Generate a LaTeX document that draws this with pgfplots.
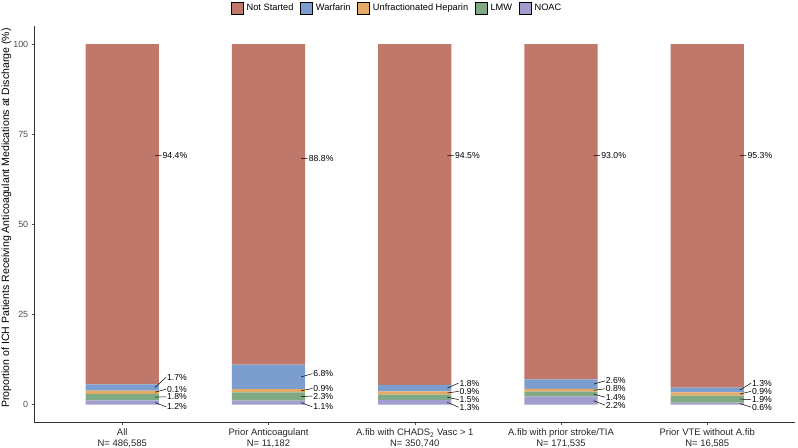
\documentclass[border=0pt]{standalone}
\usepackage{fontspec}
\setmainfont{Liberation Sans}
\usepackage{pgfplots}
\pgfplotsset{compat=1.18}
\usepackage{pgfplotstable}

\definecolor{cNS}{RGB}{191,120,106}
\definecolor{cW}{RGB}{123,158,206}
\definecolor{cU}{RGB}{230,170,102}
\definecolor{cL}{RGB}{127,170,132}
\definecolor{cN}{RGB}{161,157,205}
\definecolor{tickgray}{RGB}{77,77,77}

% Stack values (%); bottom to top: NOAC, LMW, UFH, Warfarin, Not started
\pgfplotstableread{
x notstarted warfarin ufh lmw noac
1 94.4 1.7 0.9 1.8 1.2
2 88.9 6.8 0.9 2.3 1.1
3 94.5 1.8 0.9 1.5 1.3
4 93.0 2.6 0.8 1.4 2.2
5 95.3 1.3 0.9 1.9 0.6
}\bars

% Label positions and texts
\pgfplotstableread{
x y lab
1.275 69.1 94.4
1.305 7.6 1.7
1.305 4.3 0.1
1.305 2.2 1.8
1.305 -0.6 1.2
2.275 68.3 88.8
2.305 8.6 6.8
2.305 4.5 0.9
2.305 2.4 2.3
2.305 -0.6 1.1
3.275 69.1 94.5
3.305 6.0 1.8
3.305 3.7 0.9
3.305 1.4 1.5
3.305 -0.7 1.3
4.275 69.1 93.0
4.305 6.6 2.6
4.305 4.4 0.8
4.305 2.1 1.4
4.305 -0.1 2.2
5.275 69.1 95.3
5.305 6.0 1.3
5.305 3.7 0.9
5.305 1.4 1.9
5.305 -0.7 0.6
}\labels

\begin{document}
\begin{tikzpicture}
\begin{axis}[
  scale only axis, width=760.5bp, height=396.5bp,
  xmin=0.4, xmax=5.6, ymin=-5, ymax=105,
  ybar stacked, bar width=0.5,
  axis lines*=left,
  axis line style={black!80, line width=0.6bp},
  tick align=outside, major tick length=2.75bp,
  tick style={tickgray, line width=0.5bp},
  xtick={1,2,3,4,5},
  xticklabels={{All\\N= 486,585},{Prior Anticoagulant\\N= 11,182},{A.fib with CHADS\textsubscript{2} Vasc > 1\\N= 350,740},{A.fib with prior stroke/TIA\\N= 171,535},{Prior VTE without A.fib\\N= 16,585}},
  xticklabel style={align=center, font=\fontsize{9.5}{10.5}\selectfont, text=black!85},
  ytick={0,25,50,75,100},
  yticklabel style={font=\fontsize{9}{10}\selectfont, text=tickgray},
  /pgf/number format/assume math mode=true,
  ylabel={Proportion of ICH Patients Receiving Anticoagulant Medications at Discharge (\%)},
  ylabel style={at={(axis description cs:-0.0368,0.516)}, anchor=center, inner sep=0pt, font=\fontsize{10.6}{12}\selectfont},
  legend style={at={(axis description cs:0.4767,1.046)}, anchor=center, draw=none, fill=none,
    legend columns=-1, font=\fontsize{9.3}{11}\selectfont,
    /tikz/every odd column/.append style={column sep=1.5bp},
    /tikz/every even column/.append style={column sep=4.5bp}},
  legend image code/.code={\fill[#1] (0bp,-6bp) rectangle (12bp,6bp);},
]
\addlegendimage{fill=cNS}\addlegendentry{Not Started}
\addlegendimage{fill=cW}\addlegendentry{Warfarin}
\addlegendimage{fill=cU}\addlegendentry{Unfractionated Heparin}
\addlegendimage{fill=cL}\addlegendentry{LMW}
\addlegendimage{fill=cN}\addlegendentry{NOAC}
\addplot[fill=cN, draw=none, forget plot] table[x=x, y=noac]{\bars};
\addplot[fill=cL, draw=none, forget plot] table[x=x, y=lmw]{\bars};
\addplot[fill=cU, draw=none, forget plot] table[x=x, y=ufh]{\bars};
\addplot[fill=cW, draw=none, forget plot] table[x=x, y=warfarin]{\bars};
\addplot[fill=cNS, draw=none, forget plot] table[x=x, y=notstarted]{\bars};
\end{axis}
\begin{axis}[
  scale only axis, width=760.5bp, height=396.5bp,
  xmin=0.4, xmax=5.6, ymin=-5, ymax=105,
  hide axis, clip=false,
]
\addplot[black, line width=0.5bp, unbounded coords=jump] coordinates {
(1.223,69.1) (1.268,69.1) (nan,nan)
(1.223,4.75) (1.30,7.6) (nan,nan)
(1.223,3.45) (1.30,4.3) (nan,nan)
(1.223,2.1) (1.30,2.2) (nan,nan)
(1.223,0.6) (1.30,-0.6) (nan,nan)
(2.223,68.3) (2.268,68.3) (nan,nan)
(2.223,7.7) (2.30,8.6) (nan,nan)
(2.223,3.85) (2.30,4.5) (nan,nan)
(2.223,2.25) (2.30,2.4) (nan,nan)
(2.223,0.55) (2.30,-0.6) (nan,nan)
(3.223,69.1) (3.268,69.1) (nan,nan)
(3.223,4.6) (3.30,6.0) (nan,nan)
(3.223,3.25) (3.30,3.7) (nan,nan)
(3.223,2.05) (3.30,1.4) (nan,nan)
(3.223,0.65) (3.30,-0.7) (nan,nan)
(4.223,69.1) (4.268,69.1) (nan,nan)
(4.223,5.7) (4.30,6.6) (nan,nan)
(4.223,4.0) (4.30,4.4) (nan,nan)
(4.223,2.9) (4.30,2.1) (nan,nan)
(4.223,1.1) (4.30,-0.1) (nan,nan)
(5.223,69.1) (5.268,69.1) (nan,nan)
(5.223,4.05) (5.30,6.0) (nan,nan)
(5.223,2.95) (5.30,3.7) (nan,nan)
(5.223,1.55) (5.30,1.4) (nan,nan)
(5.223,0.3) (5.30,-0.7)
};
\addplot[draw=none, nodes near coords={\pgfplotspointmeta\%}, point meta=explicit symbolic,
  nodes near coords style={anchor=west, inner sep=0pt, font=\fontsize{8.7}{10}\selectfont, text=black}]
  table[x=x, y=y, meta=lab]{\labels};
\end{axis}
\pgfresetboundingbox
\useasboundingbox (-34.5bp,-25.3bp) rectangle (763.5bp,422.7bp);
\end{tikzpicture}
\end{document}
